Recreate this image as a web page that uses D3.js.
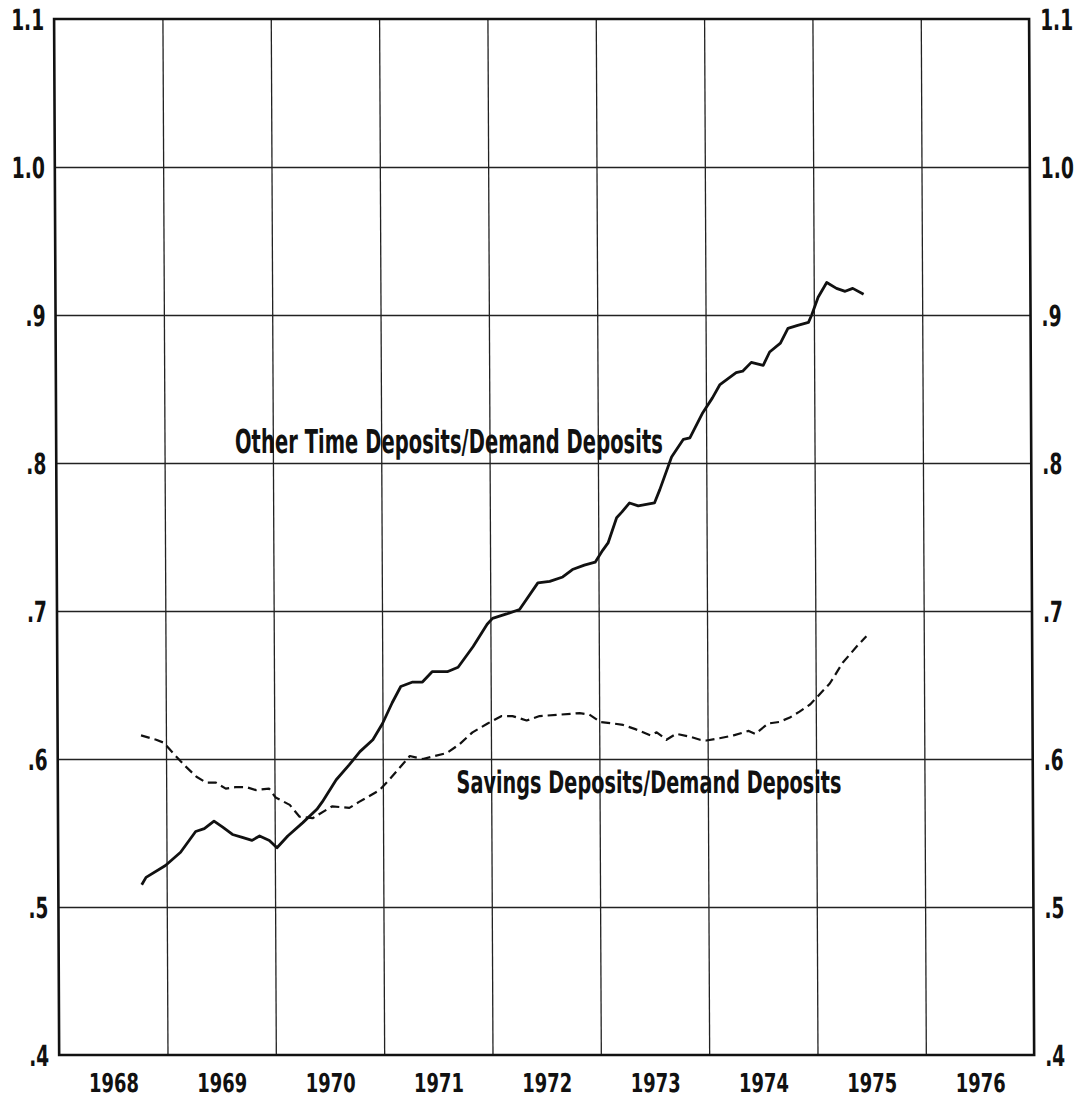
<!DOCTYPE html>
<html>
<head>
<meta charset="utf-8">
<script src="https://cdn.jsdelivr.net/npm/d3@7"></script>
<style>
  body { margin: 0; background: #fff; }
  svg text { font-family: "Liberation Sans Narrow", "DejaVu Sans Condensed", "Arial Narrow", sans-serif; font-weight: bold; fill: #111; }
</style>
</head>
<body>
<svg id="chart" width="1087" height="1100"></svg>
<script>
// ratios (decimal years)
var otherTimeDates = [1968.77, 1968.81, 1968.99, 1969.13, 1969.27, 1969.35, 1969.44, 1969.52, 1969.61, 1969.70,
    1969.79, 1969.86, 1969.95, 1970.02, 1970.12, 1970.26, 1970.39, 1970.44, 1970.57, 1970.69,
    1970.79, 1970.91, 1971.00, 1971.09, 1971.17, 1971.28, 1971.37, 1971.46, 1971.60, 1971.70,
    1971.84, 1971.97, 1972.02, 1972.15, 1972.27, 1972.44, 1972.55, 1972.67, 1972.76, 1972.87,
    1972.97, 1973.04, 1973.09, 1973.17, 1973.22, 1973.29, 1973.37, 1973.52, 1973.57, 1973.68,
    1973.79, 1973.85, 1973.97, 1974.06, 1974.13, 1974.28, 1974.34, 1974.42, 1974.53, 1974.59,
    1974.69, 1974.76, 1974.85, 1974.95, 1974.98, 1975.04, 1975.12, 1975.21, 1975.29, 1975.36, 1975.46];
var otherTimeRatio = [.515, .520, .528, .537, .551, .553, .558, .554, .549, .547,
    .545, .548, .545, .540, .548, .557, .566, .571, .586, .596,
    .605, .613, .624, .638, .649, .652, .652, .659, .659, .662,
    .676, .691, .695, .698, .701, .719, .720, .723, .728, .731,
    .733, .741, .746, .763, .767, .773, .771, .773, .782, .804,
    .816, .817, .834, .844, .853, .861, .862, .868, .866, .875,
    .881, .891, .893, .895, .900, .912, .922, .918, .916, .918, .914];

var savingsDates = [1968.77, 1968.91, 1968.98, 1969.09, 1969.18, 1969.28, 1969.37, 1969.46, 1969.55, 1969.64,
    1969.74, 1969.83, 1969.95, 1970.01, 1970.14, 1970.23, 1970.35, 1970.53, 1970.69, 1970.78,
    1970.97, 1971.06, 1971.25, 1971.37, 1971.59, 1971.71, 1971.83, 1971.97, 1972.10, 1972.20,
    1972.33, 1972.45, 1972.64, 1972.82, 1972.91, 1973.01, 1973.13, 1973.22, 1973.34, 1973.47,
    1973.53, 1973.62, 1973.71, 1973.84, 1973.93, 1973.99, 1974.11, 1974.24, 1974.38, 1974.44,
    1974.56, 1974.66, 1974.76, 1974.85, 1974.95, 1975.13, 1975.25, 1975.38, 1975.47];
var savingsRatio = [.616, .613, .611, .602, .595, .588, .584, .584, .580, .581,
    .581, .579, .580, .574, .569, .561, .560, .568, .567, .571,
    .579, .586, .602, .600, .604, .610, .618, .624, .629, .629,
    .626, .629, .630, .631, .630, .625, .624, .623, .620, .616,
    .618, .613, .617, .615, .613, .6125, .614, .616, .619, .617,
    .624, .625, .628, .632, .637, .651, .665, .676, .683];

var years = [1968, 1969, 1970, 1971, 1972, 1973, 1974, 1975, 1976];
var yTicks = [1.1, 1.0, 0.9, 0.8, 0.7, 0.6, 0.5, 0.4];
var yTickLabels = ["1.1", "1.0", ".9", ".8", ".7", ".6", ".5", ".4"];

var labelText = ["Other Time Deposits/Demand Deposits", "Savings Deposits/Demand Deposits"];
var labelAt = [[1969.65, 0.8068], [1971.68, 0.577]];   // left end of baseline

const svg = d3.select('#chart');
svg.append("rect").attr("width", 1087).attr("height", 1100).attr("fill", "#fff");

// the scan is slightly sheared, lines drift right going down
const chart = svg.append("g").attr("transform", "skewX(0.28)");

const x = d3.scaleLinear().domain([1968, 1977]).range([54, 1029]);
const y = d3.scaleLinear().domain([0.4, 1.1]).range([1055, 19]);
const innerW = x.range()[1] - x.range()[0];
const innerH = y.range()[0] - y.range()[1];

// narrow lettering like the original: squeeze each label to a set width
const labelWidth = s => s.split("").reduce((w, c) => w + (c === "." ? 7 : 13), 0);

// grid
chart.append("g")
    .attr("transform", `translate(0,${y(0.4)})`)
    .call(d3.axisBottom(x).tickValues(d3.range(1969, 1977)).tickSize(-innerH).tickFormat(""))
    .call(g => g.select(".domain").remove())
    .call(g => g.selectAll(".tick line").attr("stroke", "#222").attr("stroke-width", 1.3));

chart.append("g")
    .attr("transform", `translate(${x(1968)},0)`)
    .call(d3.axisLeft(y).tickValues([0.5, 0.6, 0.7, 0.8, 0.9, 1.0]).tickSize(-innerW).tickFormat(""))
    .call(g => g.select(".domain").remove())
    .call(g => g.selectAll(".tick line").attr("stroke", "#222").attr("stroke-width", 1.3));

chart.append("rect")
    .attr("x", x(1968)).attr("y", y(1.1))
    .attr("width", innerW).attr("height", innerH)
    .attr("fill", "none").attr("stroke", "#111").attr("stroke-width", 2.6);

// tick labels
chart.append("g")
    .attr("transform", `translate(${x(1968)},0)`)
    .call(d3.axisLeft(y).tickValues(yTicks).tickSize(0).tickPadding(10)
        .tickFormat((d, i) => yTickLabels[i]))
    .call(g => g.select(".domain").remove())
    .call(g => g.selectAll("text").attr("font-size", 29).attr("dy", "0.36em")
        .attr("textLength", (d, i) => labelWidth(yTickLabels[i]))
        .attr("lengthAdjust", "spacingAndGlyphs"));

chart.append("g")
    .attr("transform", `translate(${x(1977)},0)`)
    .call(d3.axisRight(y).tickValues(yTicks).tickSize(0).tickPadding(11)
        .tickFormat((d, i) => yTickLabels[i]))
    .call(g => g.select(".domain").remove())
    .call(g => g.selectAll("text").attr("font-size", 29).attr("dy", "0.36em")
        .attr("textLength", (d, i) => labelWidth(yTickLabels[i]))
        .attr("lengthAdjust", "spacingAndGlyphs"));

chart.append("g")
    .attr("transform", `translate(0,${y(0.4)})`)
    .call(d3.axisBottom(x).tickValues(years.map(d => d + 0.5)).tickSize(0).tickPadding(19)
        .tickFormat((d, i) => years[i]))
    .call(g => g.select(".domain").remove())
    .call(g => g.selectAll("text").attr("font-size", 26)
        .attr("textLength", 50).attr("lengthAdjust", "spacingAndGlyphs"));

// series
const line = d3.line().x(d => x(d[0])).y(d => y(d[1]));

chart.append("path")
    .datum(d3.zip(otherTimeDates, otherTimeRatio))
    .attr("fill", "none").attr("stroke", "#111").attr("stroke-width", 2.8)
    .attr("stroke-linejoin", "round")
    .attr("d", line);

chart.append("path")
    .datum(d3.zip(savingsDates, savingsRatio))
    .attr("fill", "none").attr("stroke", "#111").attr("stroke-width", 2.2)
    .attr("stroke-dasharray", "9,5")
    .attr("stroke-linejoin", "round")
    .attr("d", line);

// labels on the lines
const labelW = [428, 385];
const labelSize = [33, 31];
chart.selectAll("text.note")
    .data(labelText)
    .join("text")
    .attr("class", "note")
    .attr("x", (d, i) => x(labelAt[i][0]))
    .attr("y", (d, i) => y(labelAt[i][1]))
    .attr("font-size", (d, i) => labelSize[i])
    .attr("textLength", (d, i) => labelW[i])
    .attr("lengthAdjust", "spacingAndGlyphs")
    .text(d => d);
</script>
</body>
</html>
